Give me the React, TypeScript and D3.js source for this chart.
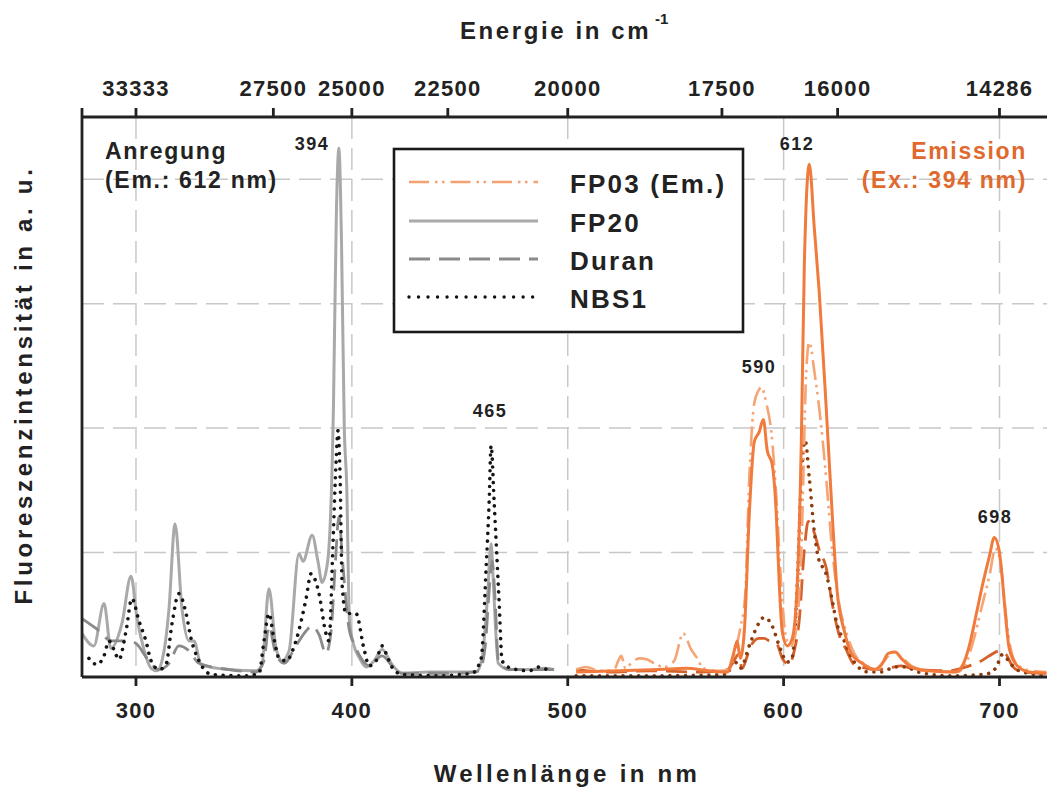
import React from "react";
import * as d3 from "d3";

// ---------- data ----------
const wavelengthTicks = [300, 400, 500, 600, 700];
const energyTicks = [33333, 27500, 25000, 22500, 20000, 17500, 16000, 14286];
const gridValues = [1, 2, 3, 4];
const legendLabels = ["FP03 (Em.)", "FP20", "Duran", "NBS1"];

type P = [number, number];

// excitation (Em.: 612 nm)
const fp20Exc: P[] = [
  [275, 0.35], [280.5, 0.25], [285.2, 0.59], [288.4, 0.23], [293.5, 0.43], [297.7, 0.81],
  [300.5, 0.47], [303.7, 0.22], [307, 0.07], [309.7, 0.05], [313, 0.21], [315.3, 0.55],
  [318.1, 1.23], [321.3, 0.55], [324.6, 0.29], [326.9, 0.29], [330.1, 0.1], [343.1, 0.06],
  [355.6, 0.05], [358.4, 0.1], [361.6, 0.71], [364.9, 0.23], [367.7, 0.13], [370.9, 0.21],
  [375.5, 0.99], [377.4, 0.93], [381.6, 1.14], [384.3, 0.93], [386.2, 0.76], [388.8, 0.93],
  [391.5, 2.2], [392.8, 3.7], [394.0, 4.25], [395.2, 3.5], [396.5, 2.0], [397.6, 1.55],
  [398.9, 0.45], [401, 0.25], [403.3, 0.16], [406.6, 0.08], [410.3, 0.13], [414, 0.22],
  [418.6, 0.1], [423.3, 0.03], [435.8, 0.04], [449.7, 0.04], [457.6, 0.04], [460.3, 0.15],
  [462.7, 0.61], [464.5, 1.07], [465.4, 0.81], [466.4, 0.45], [467.8, 0.11], [472.8, 0.06],
  [482.1, 0.06], [489.1, 0.07], [493.7, 0.06],
];

const duranExc: P[] = [
  [275, 0.47], [281.5, 0.39], [288.9, 0.29], [296.8, 0.29], [300, 0.27], [306, 0.13],
  [310.7, 0.06], [315.3, 0.11], [319.9, 0.25], [324.6, 0.21], [329.2, 0.11], [343.1, 0.06],
  [355.6, 0.04], [359.3, 0.13], [361.6, 0.41], [364.4, 0.21], [368.6, 0.11], [374.1, 0.25],
  [378.8, 0.37], [381.6, 0.41], [384.8, 0.34], [388, 0.19], [390.4, 0.37], [392.4, 0.93],
  [394, 1.29], [395.7, 0.93], [398.7, 0.39], [401.5, 0.25], [404.3, 0.15], [408, 0.09],
  [414, 0.17], [418.6, 0.09], [423.3, 0.03], [449.7, 0.03], [459, 0.05], [461.8, 0.25],
  [463.6, 0.69], [465, 0.93], [466.4, 0.61], [467.8, 0.14], [472.8, 0.06], [486.7, 0.06],
  [493.7, 0.06],
];

const nbs1Exc: P[] = [
  [278.2, 0.15], [281.9, 0.1], [285.2, 0.17], [287.5, 0.29], [289.8, 0.22], [292.1, 0.14],
  [295.4, 0.37], [298.1, 0.63], [301.4, 0.45], [304.6, 0.29], [307, 0.13], [310.7, 0.06],
  [313.9, 0.1], [316.7, 0.43], [319.9, 0.67], [323.2, 0.51], [325.5, 0.31], [329.2, 0.13],
  [335.2, 0.02], [351, 0.01], [357, 0.03], [359.3, 0.29], [361.6, 0.51], [363.9, 0.31],
  [366.3, 0.15], [369.5, 0.13], [374.1, 0.29], [378.8, 0.63], [381.1, 0.83], [384.8, 0.67],
  [388, 0.35], [389.4, 0.29], [391.3, 1.09], [392.7, 1.73], [393.6, 1.98], [394.5, 1.65],
  [395.5, 0.74], [397.3, 0.51], [399.6, 0.51], [401.9, 0.51], [405.7, 0.22], [408, 0.09],
  [411.2, 0.13], [414, 0.25], [416.3, 0.17], [418.6, 0.08], [423.3, 0.02], [440.4, 0.01],
  [455.7, 0.03], [459.9, 0.15], [462.2, 0.88], [463.6, 1.41], [464.5, 1.86], [465.9, 1.41],
  [468.2, 0.61], [469.6, 0.13], [473.8, 0.07], [482.1, 0.05], [486.7, 0.08], [491.4, 0.05],
];

// emission (Ex.: 394 nm)
const fp03Em: P[] = [
  [503.9, 0.06], [508.5, 0.08], [514.6, 0.05], [521.5, 0.06], [523.4, 0.13], [524.8, 0.17],
  [526.7, 0.07], [529.4, 0.11], [533.1, 0.15], [536.8, 0.14], [540, 0.11], [544.7, 0.08],
  [549.3, 0.13], [553.5, 0.35], [557.2, 0.22], [560, 0.15], [562.7, 0.07], [570.2, 0.05],
  [574.8, 0.06], [577.6, 0.21], [579.9, 0.39], [582.2, 0.66], [584.1, 1.6], [586.4, 2.2],
  [588.3, 2.3], [589.7, 2.33], [592, 2.2], [594.3, 1.97], [596.6, 1.45], [598.9, 0.74],
  [601.2, 0.31], [603.5, 0.25], [605.9, 0.39], [608.2, 1.02], [610.5, 2.46], [611.9, 2.69],
  [614.2, 2.46], [617.4, 2.02], [619.7, 1.6], [622.5, 1.02], [625.7, 0.59], [629, 0.36],
  [632.7, 0.19], [637.8, 0.1], [643.4, 0.06], [647.1, 0.14], [650.8, 0.2], [654.5, 0.16],
  [660.1, 0.08], [667.5, 0.05], [680.5, 0.04], [684.2, 0.1], [687.9, 0.29], [691.6, 0.55],
  [695.3, 0.81], [698.1, 1.03], [700.4, 0.93], [702.3, 0.61], [704.5, 0.29], [708.2, 0.1],
  [714.7, 0.05], [721.7, 0.04],
];

const fp20Em: P[] = [
  [503.9, 0.04], [523.8, 0.05], [542.4, 0.06], [554.9, 0.07], [565.5, 0.05], [573.9, 0.04],
  [576.7, 0.18], [578.5, 0.29], [579.9, 0.15], [581.8, 0.37], [584.1, 1.31], [586.4, 1.89],
  [588.7, 1.97], [590.6, 2.07], [592.4, 1.82], [594.7, 1.71], [596.6, 1.31], [598, 0.74],
  [599.4, 0.36], [601.7, 0.25], [604, 0.31], [606.3, 0.74], [608.2, 1.89], [609.6, 3.32],
  [611.9, 4.12], [614.2, 3.61], [616.5, 3.09], [619.7, 2.17], [622.5, 1.31], [624.8, 0.69],
  [628.1, 0.37], [631.3, 0.19], [636.4, 0.11], [642, 0.06], [645.7, 0.11], [648.5, 0.19],
  [651.7, 0.2], [654.5, 0.15], [659.1, 0.08], [667, 0.05], [679.5, 0.04], [682.8, 0.09],
  [686, 0.25], [689.3, 0.51], [692, 0.73], [695.3, 0.97], [697.6, 1.12], [699.9, 1.01],
  [701.3, 0.79], [702.7, 0.51], [704.5, 0.23], [708.2, 0.09], [713.8, 0.04], [721.7, 0.03],
];

const duranEm: P[] = [
  [503.9, 0.06], [519.2, 0.04], [537.7, 0.05], [560.9, 0.04], [573.9, 0.06], [576.7, 0.12],
  [579, 0.18], [580.8, 0.07], [583.2, 0.17], [585.5, 0.27], [588.7, 0.31], [591, 0.31],
  [593.3, 0.29], [597, 0.26], [599.4, 0.15], [602.6, 0.1], [604.9, 0.21], [607.2, 0.45],
  [609.6, 1.02], [611.4, 1.25], [614.2, 1.16], [616.5, 1.02], [619.7, 0.88], [622.5, 0.59],
  [625.7, 0.34], [629, 0.22], [632.7, 0.1], [643.8, 0.06], [648.5, 0.07], [654.5, 0.09],
  [661, 0.06], [676.7, 0.05], [686, 0.09], [690.6, 0.12], [695.3, 0.17], [699.9, 0.21],
  [703.1, 0.18], [705.9, 0.09], [710.5, 0.04], [721.7, 0.03],
];

const nbs1Em: P[] = [
  [503.9, 0.01], [537.7, 0.01], [573.9, 0.02], [576.7, 0.14], [579.9, 0.07], [584.5, 0.27],
  [587.8, 0.41], [591, 0.48], [594.7, 0.41], [598, 0.25], [601.7, 0.12], [604, 0.16],
  [606.3, 0.74], [608.2, 1.6], [610, 1.9], [611.9, 1.6], [614.2, 1.17], [616.5, 0.93],
  [619.3, 0.85], [622, 0.66], [624.8, 0.42], [628.1, 0.29], [632.7, 0.12], [639.2, 0.04],
  [645.2, 0.04], [651.7, 0.08], [656.4, 0.08], [662.4, 0.04], [676.7, 0.01], [692, 0.02],
  [696.7, 0.04], [699, 0.1], [701.3, 0.18], [705.5, 0.1], [709.2, 0.05], [721.7, 0.01],
];

// ---------- layout ----------
const W = 1047;
const H = 790;
const left = 82;
const right = 1047;
const top = 117;
const bottom = 677;

const FONT = "'Liberation Sans', Arial, Helvetica, sans-serif";
const AXIS = "#222222";
const GRID = "#c8c8c8";

const styles = {
  fp20Exc: { stroke: "#a9a9a9", width: 3, dash: "none", cap: "butt" },
  duranExc: { stroke: "#8a8a8a", width: 2.8, dash: "21 9", cap: "butt" },
  nbs1Exc: { stroke: "#151515", width: 3.6, dash: "0.01 7.8", cap: "round" },
  fp03Em: { stroke: "#f5a474", width: 2.6, dash: "20 5 2.5 4.5 2.5 6", cap: "butt" },
  fp20Em: { stroke: "#f07b3d", width: 3, dash: "none", cap: "butt" },
  duranEm: { stroke: "#d4602a", width: 2.8, dash: "21 9", cap: "butt" },
  nbs1Em: { stroke: "#8c3c0e", width: 3.6, dash: "0.01 7.8", cap: "round" },
};

const legendStyles = [
  { stroke: "#f5a070", width: 2.6, dash: "20 6 2.5 4.5 2.5 6", cap: "butt" },
  { stroke: "#aaaaaa", width: 3, dash: "none", cap: "butt" },
  { stroke: "#8a8a8a", width: 3, dash: "21 9", cap: "butt" },
  { stroke: "#111111", width: 3.4, dash: "0.01 9.5", cap: "round" },
];

export default function App() {
  const x = d3.scaleLinear().domain([275, 722]).range([left, right]);
  const y = d3.scaleLinear().domain([0, 4.5]).range([bottom, top]);
  const line = d3
    .line<P>()
    .x((d) => x(d[0]))
    .y((d) => y(d[1]))
    .curve(d3.curveMonotoneX);

  const series: [P[], any][] = [
    [fp20Exc, styles.fp20Exc],
    [duranExc, styles.duranExc],
    [nbs1Exc, styles.nbs1Exc],
    [duranEm, styles.duranEm],
    [nbs1Em, styles.nbs1Em],
    [fp03Em, styles.fp03Em],
    [fp20Em, styles.fp20Em],
  ];

  const legendX = 394;
  const legendY = 149;
  const legendW = 349;
  const legendH = 183;
  const legendRows = [182, 221, 259, 297];

  return (
    <svg
      width={W}
      height={H}
      viewBox={`0 0 ${W} ${H}`}
      style={{ position: "absolute", left: 0, top: 0, display: "block", background: "#fff" }}
      fontFamily={FONT}
      fontWeight="bold"
    >
      <defs>
        <clipPath id="plot">
          <rect x={left} y={top} width={right - left} height={bottom - top} />
        </clipPath>
      </defs>
      <rect x={0} y={0} width={W} height={H} fill="#fff" />

      {/* grid */}
      {wavelengthTicks.map((t) => (
        <line key={"gv" + t} x1={x(t)} x2={x(t)} y1={top} y2={bottom} stroke={GRID} strokeWidth={1.5} strokeDasharray="22 9" />
      ))}
      {gridValues.map((v) => (
        <line key={"gh" + v} x1={left} x2={right} y1={y(v)} y2={y(v)} stroke={GRID} strokeWidth={1.5} strokeDasharray="22 9" />
      ))}

      {/* curves */}
      <g clipPath="url(#plot)">
        {series.map(([data, s], i) => (
          <path
            key={i}
            d={line(data) || ""}
            fill="none"
            stroke={s.stroke}
            strokeWidth={s.width}
            strokeDasharray={s.dash}
            strokeLinecap={s.cap}
            strokeLinejoin="round"
          />
        ))}
      </g>

      {/* legend */}
      <rect x={legendX} y={legendY} width={legendW} height={legendH} fill="#fff" stroke="#1a1a1a" strokeWidth={2.6} />
      {legendLabels.map((lab, i) => (
        <g key={lab}>
          <line
            x1={409}
            x2={538}
            y1={legendRows[i]}
            y2={legendRows[i]}
            stroke={legendStyles[i].stroke}
            strokeWidth={legendStyles[i].width}
            strokeDasharray={legendStyles[i].dash}
            strokeLinecap={legendStyles[i].cap as any}
          />
          <text x={570} y={legendRows[i] + 11} fontSize={26} letterSpacing={2.2} fill="#222">
            {lab}
          </text>
        </g>
      ))}

      {/* annotations */}
      <text x={105} y={159} fontSize={23} letterSpacing={1.7} fill="#222">Anregung</text>
      <text x={105} y={188} fontSize={23} letterSpacing={1.7} fill="#222">(Em.: 612 nm)</text>
      <text x={1027} y={159} fontSize={23} letterSpacing={1.7} fill="#e0692e" textAnchor="end">Emission</text>
      <text x={1027} y={188} fontSize={23} letterSpacing={1.7} fill="#e0692e" textAnchor="end">(Ex.: 394 nm)</text>

      <text x={312} y={150} fontSize={18} letterSpacing={1.5} fill="#222" textAnchor="middle">394</text>
      <text x={797} y={150} fontSize={18} letterSpacing={1.5} fill="#222" textAnchor="middle">612</text>
      <text x={759} y={373} fontSize={18} letterSpacing={1.5} fill="#222" textAnchor="middle">590</text>
      <text x={490} y={417} fontSize={18} letterSpacing={1.5} fill="#222" textAnchor="middle">465</text>
      <text x={995} y={523} fontSize={18} letterSpacing={1.5} fill="#222" textAnchor="middle">698</text>

      {/* axes */}
      <line x1={left} x2={right} y1={bottom} y2={bottom} stroke={AXIS} strokeWidth={2.8} />
      <line x1={left} x2={right} y1={top} y2={top} stroke={AXIS} strokeWidth={2.8} />
      <line x1={left} x2={left} y1={top - 9} y2={bottom} stroke={AXIS} strokeWidth={2.8} />
      {wavelengthTicks.map((t) => (
        <g key={"bt" + t}>
          <line x1={x(t)} x2={x(t)} y1={bottom} y2={bottom + 9} stroke={AXIS} strokeWidth={2.8} />
          <text x={x(t)} y={718} fontSize={22} letterSpacing={1.3} fill="#222" textAnchor="middle">{t}</text>
        </g>
      ))}
      {energyTicks.map((e) => (
        <g key={"tt" + e}>
          <line x1={x(1e7 / e)} x2={x(1e7 / e)} y1={top} y2={top - 9} stroke={AXIS} strokeWidth={2.8} />
          <text x={x(1e7 / e)} y={96} fontSize={22} letterSpacing={1.3} fill="#222" textAnchor="middle">{e}</text>
        </g>
      ))}

      {/* titles */}
      <text x={567} y={782} fontSize={24} letterSpacing={3.3} fill="#222" textAnchor="middle">Wellenlänge in nm</text>
      <text x={460} y={39} fontSize={24} letterSpacing={2.6} fill="#222">Energie in cm</text>
      <text x={655} y={24} fontSize={15} fill="#222">-1</text>
      <text
        transform="translate(32,385) rotate(-90)"
        x={0}
        y={0}
        fontSize={24}
        letterSpacing={3.7}
        fill="#222"
        textAnchor="middle"
      >
        Fluoreszenzintensität in a. u.
      </text>
    </svg>
  );
}
